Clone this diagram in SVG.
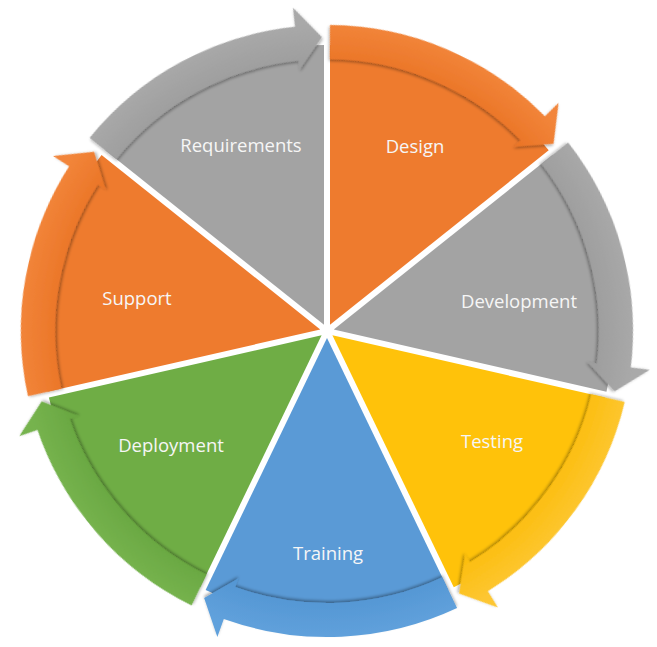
<svg xmlns="http://www.w3.org/2000/svg" xmlns:xlink="http://www.w3.org/1999/xlink" width="657" height="647" viewBox="0 0 657 647">
<defs>
<style>
.lbl{font-family:"Open Sans","Noto Sans","Liberation Sans",sans-serif;font-size:18.5px;fill:#F6F6F6;text-anchor:middle}
.bO{fill:#EE7B2E}.bG{fill:#A3A3A3}.bY{fill:#FFC20A}.bB{fill:#5A9AD6}.bN{fill:#6FAD45}
.aO{fill:url(#gO)}.aG{fill:url(#gG)}.aY{fill:url(#gY)}.aB{fill:url(#gB)}.aN{fill:url(#gN)}
</style>
<radialGradient id="gO" gradientUnits="userSpaceOnUse" cx="0" cy="0" r="325"><stop offset="0.83" stop-color="#EB7628"/><stop offset="0.95" stop-color="#F2853A"/></radialGradient>
<radialGradient id="gG" gradientUnits="userSpaceOnUse" cx="0" cy="0" r="325"><stop offset="0.83" stop-color="#9E9E9E"/><stop offset="0.95" stop-color="#A9A9A9"/></radialGradient>
<radialGradient id="gY" gradientUnits="userSpaceOnUse" cx="0" cy="0" r="325"><stop offset="0.83" stop-color="#FCBE10"/><stop offset="0.95" stop-color="#FDC630"/></radialGradient>
<radialGradient id="gB" gradientUnits="userSpaceOnUse" cx="0" cy="0" r="325"><stop offset="0.83" stop-color="#5597D4"/><stop offset="0.95" stop-color="#60A1DC"/></radialGradient>
<radialGradient id="gN" gradientUnits="userSpaceOnUse" cx="0" cy="0" r="325"><stop offset="0.83" stop-color="#6AA842"/><stop offset="0.95" stop-color="#76B34E"/></radialGradient>
<filter id="sh" x="-20%" y="-20%" width="140%" height="140%"><feDropShadow dx="0" dy="2" stdDeviation="1.5" flood-color="#000" flood-opacity="0.35"/></filter>
<path id="body" d="M0,-6.91 L-121.38,-258.96 A286,286 0 0 1 121.38,-258.96 Z"/>
<path id="arrow" d="M-130.06,-276.99 A306,306 0 0 1 103.22,-288.07 L109.63,-305.95 L122.86,-267.10 L88.71,-247.59 L91.75,-256.06 A272,272 0 0 0 -115.30,-246.35 Z"/>
</defs>
<rect width="657" height="647" fill="#FFFFFF"/>
<g id="nodes">
<g id="requirements"><use xlink:href="#body" class="bG" transform="translate(327 331) rotate(334.286)"/><text class="lbl" x="241" y="152">Requirements</text></g>
<g id="design"><use xlink:href="#body" class="bO" transform="translate(327 331) rotate(25.714)"/><text class="lbl" x="415" y="153">Design</text></g>
<g id="development"><use xlink:href="#body" class="bG" transform="translate(327 331) rotate(77.143)"/><text class="lbl" x="519" y="308">Development</text></g>
<g id="testing"><use xlink:href="#body" class="bY" transform="translate(327 331) rotate(128.571)"/><text class="lbl" x="492" y="448">Testing</text></g>
<g id="training"><use xlink:href="#body" class="bB" transform="translate(327 331) rotate(180)"/><text class="lbl" x="328" y="560">Training</text></g>
<g id="deployment"><use xlink:href="#body" class="bN" transform="translate(327 331) rotate(231.429)"/><text class="lbl" x="171" y="452">Deployment</text></g>
<g id="support"><use xlink:href="#body" class="bO" transform="translate(327 331) rotate(282.857)"/><text class="lbl" x="137" y="305">Support</text></g>
</g>
<g id="connectors" filter="none">
<use xlink:href="#arrow" class="aG" filter="url(#sh)" transform="translate(327 331) rotate(334.286)"/>
<use xlink:href="#arrow" class="aO" filter="url(#sh)" transform="translate(327 331) rotate(25.714)"/>
<use xlink:href="#arrow" class="aG" filter="url(#sh)" transform="translate(327 331) rotate(77.143)"/>
<use xlink:href="#arrow" class="aY" filter="url(#sh)" transform="translate(327 331) rotate(128.571)"/>
<use xlink:href="#arrow" class="aB" filter="url(#sh)" transform="translate(327 331) rotate(180)"/>
<use xlink:href="#arrow" class="aN" filter="url(#sh)" transform="translate(327 331) rotate(231.429)"/>
<use xlink:href="#arrow" class="aO" filter="url(#sh)" transform="translate(327 331) rotate(282.857)"/>
</g>
</svg>
